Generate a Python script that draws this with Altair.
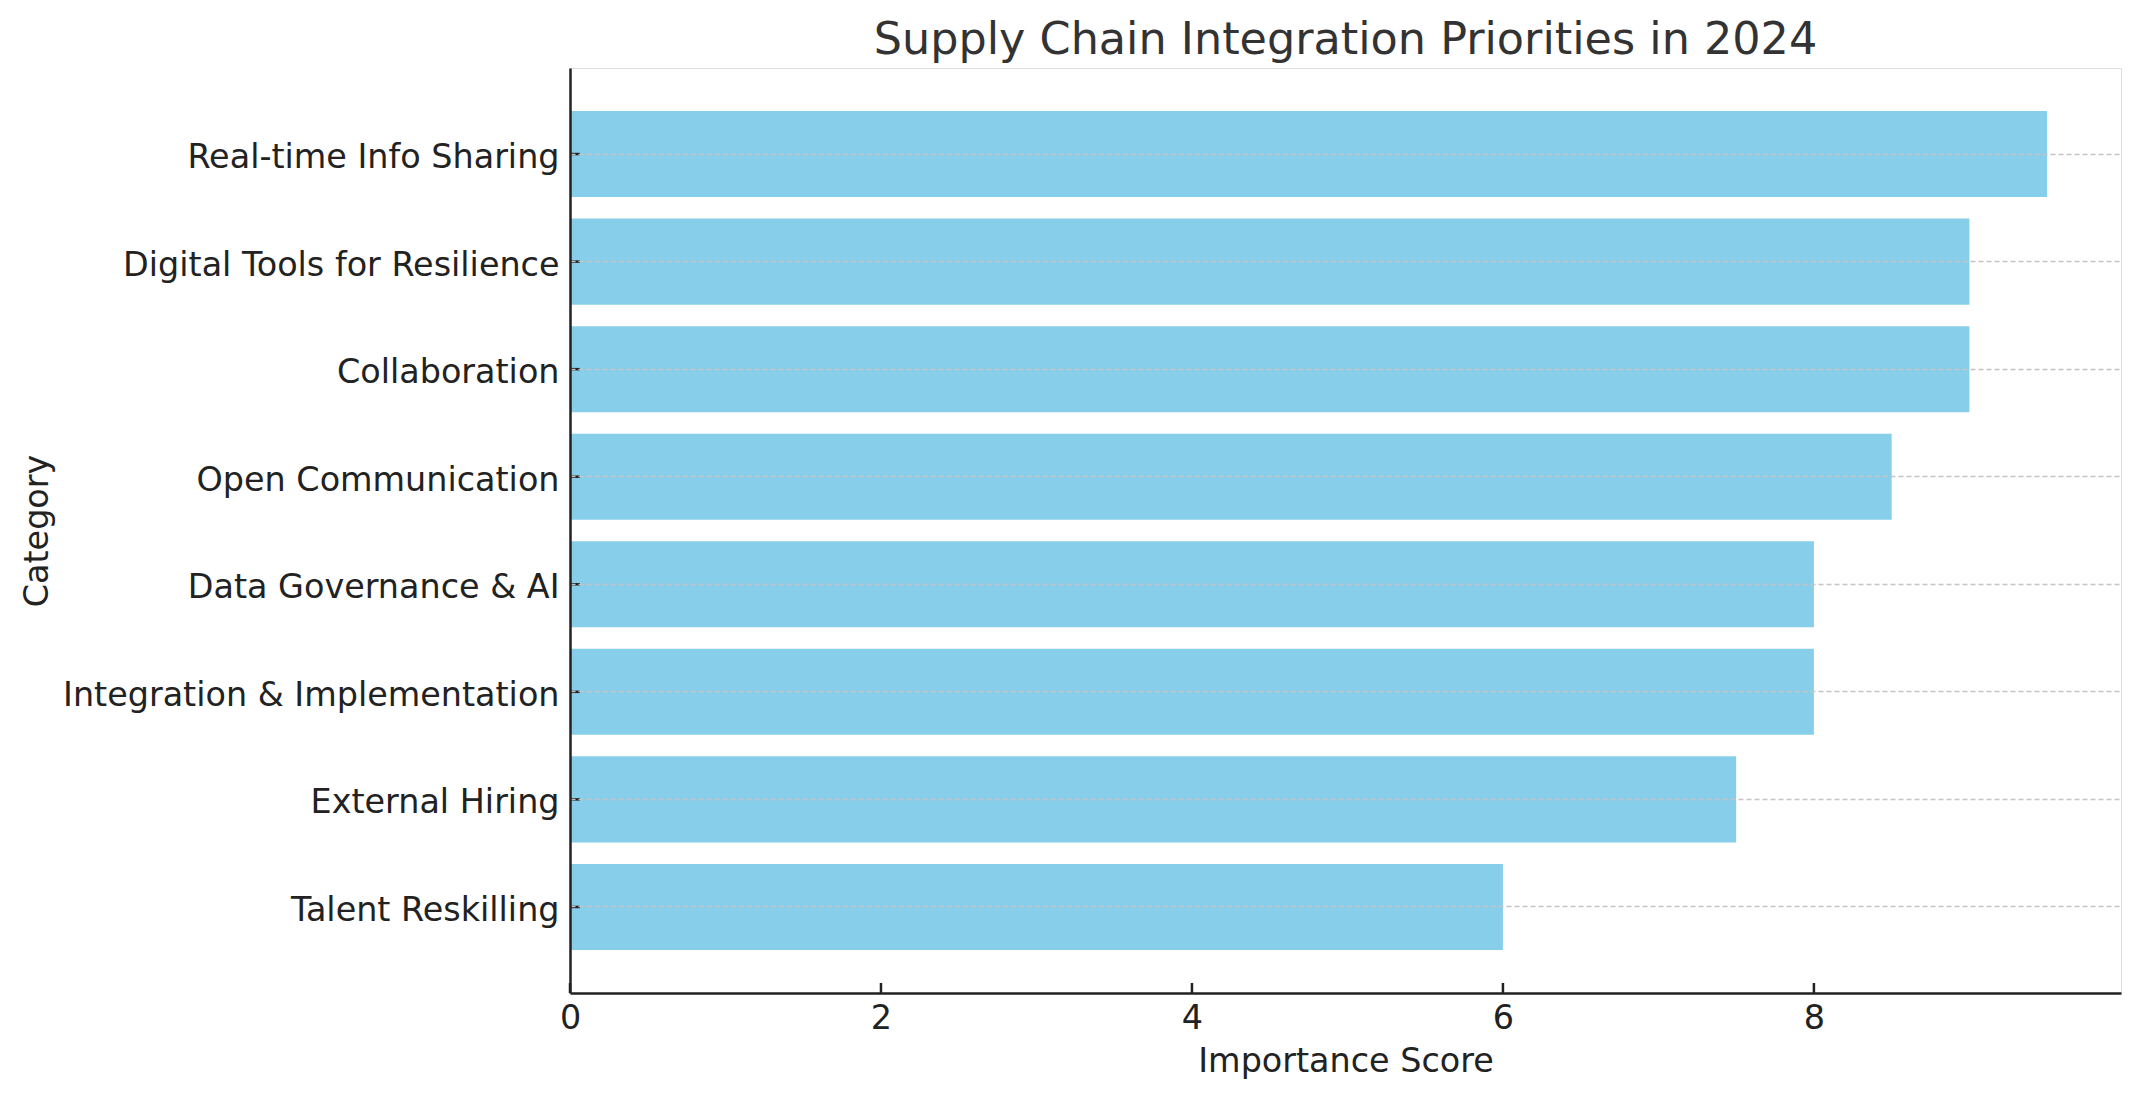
import altair as alt
import pandas as pd

categories = [
    "Real-time Info Sharing",
    "Digital Tools for Resilience",
    "Collaboration",
    "Open Communication",
    "Data Governance & AI",
    "Integration & Implementation",
    "External Hiring",
    "Talent Reskilling",
]
scores = [9.5, 9.0, 9.0, 8.5, 8.0, 8.0, 7.5, 6.0]
x_ticks = [0, 2, 4, 6, 8]

df = pd.DataFrame({"Category": categories, "Score": scores})
tick_df = pd.DataFrame({"t": x_ticks})

W, H = 1551, 925
FONT = "DejaVu Sans"
FS = 33.4

x_scale = alt.Scale(domain=[0, 9.975], nice=False, zero=True)
y_scale = alt.Scale(domain=categories, paddingInner=0.2, paddingOuter=0.4)

bars = alt.Chart(df).mark_bar(color="#87CEEB").encode(
    x=alt.X("Score:Q", scale=x_scale,
            axis=alt.Axis(title="Importance Score", values=x_ticks, grid=False,
                          ticks=False, labelPadding=9, format="d", labelFlush=False,
                          domainColor="#222222", domainWidth=2.5,
                          labelFont=FONT, labelFontSize=FS, labelColor="#222222",
                          titleFont=FONT, titleFontSize=FS, titleFontWeight="normal",
                          titleColor="#222222", titlePadding=11, zindex=1)),
    y=alt.Y("Category:N", scale=y_scale, sort=categories,
            axis=alt.Axis(title="Category", grid=True, gridDash=[5, 3],
                          gridColor="#c4c4c4", gridWidth=1.4, ticks=False,
                          labelPadding=11, labelLimit=0, labelBaseline="alphabetic",
                          labelOffset=14, domainColor="#222222",
                          domainWidth=2.5,
                          labelFont=FONT, labelFontSize=FS, labelColor="#222222",
                          titleFont=FONT, titleFontSize=FS, titleFontWeight="normal",
                          titleColor="#222222", titleX=-533, titleY=H / 2,
                          titleAngle=270, titleAlign="center", titleBaseline="middle",
                          zindex=1)),
)

y_ticks = alt.Chart(df).mark_rule(color="#222222", strokeWidth=2.5).encode(
    y=alt.Y("Category:N", scale=y_scale, sort=categories),
    x=alt.value(0),
    x2=alt.value(10),
)

x_tick_marks = alt.Chart(tick_df).mark_rule(color="#222222", strokeWidth=2.5).encode(
    x=alt.X("t:Q", scale=x_scale),
    y=alt.value(H - 10),
    y2=alt.value(H),
)

chart = alt.layer(bars, y_ticks, x_tick_marks).properties(
    width=W,
    height=H,
    autosize="none",
    padding={"left": 562, "top": 60, "right": 10, "bottom": 90},
    title=alt.TitleParams(
        "Supply Chain Integration Priorities in 2024",
        font=FONT, fontSize=44.5, fontWeight="normal", color="#333333",
        anchor="middle", offset=5,
    ),
).configure_view(stroke=None).configure(background="white")

chart.save("out.html", embed_options={"renderer": "svg", "actions": False})
